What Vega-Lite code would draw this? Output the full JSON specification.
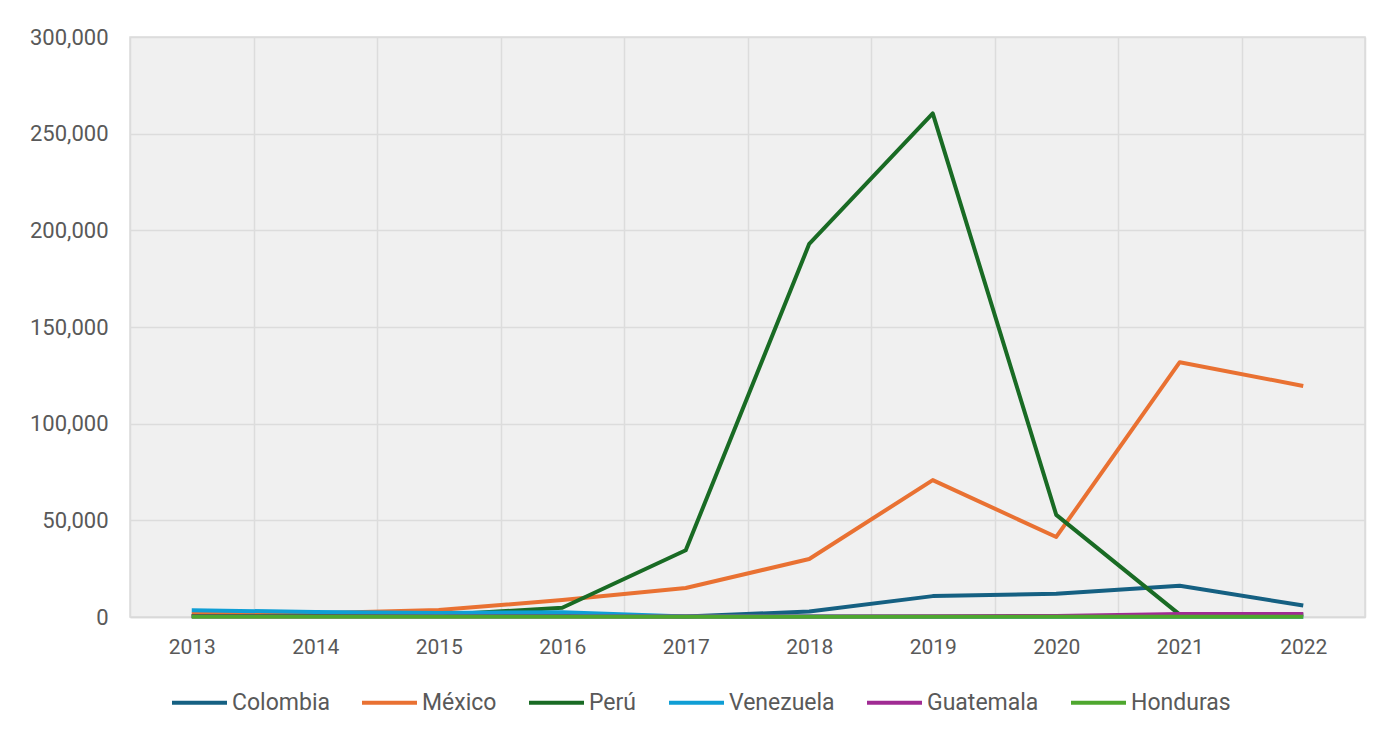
{
  "$schema": "https://vega.github.io/schema/vega-lite/v6.json",
  "width": 1235,
  "height": 580,
  "autosize": {"type": "none"},
  "padding": {"left": 130, "top": 37, "right": 33, "bottom": 119},
  "background": "white",
  "config": {
    "font": "Roboto",
    "view": {"fill": "#f0f0f0", "stroke": "#dcdcdc", "strokeWidth": 1.5}
  },
  "data": {
    "values": [
      {"year": "2013", "country": "Colombia", "value": 500},
      {"year": "2014", "country": "Colombia", "value": 500},
      {"year": "2015", "country": "Colombia", "value": 600},
      {"year": "2016", "country": "Colombia", "value": 500},
      {"year": "2017", "country": "Colombia", "value": 300},
      {"year": "2018", "country": "Colombia", "value": 2800},
      {"year": "2019", "country": "Colombia", "value": 10800},
      {"year": "2020", "country": "Colombia", "value": 12000},
      {"year": "2021", "country": "Colombia", "value": 16200},
      {"year": "2022", "country": "Colombia", "value": 5900},
      {"year": "2013", "country": "México", "value": 1500},
      {"year": "2014", "country": "México", "value": 2000},
      {"year": "2015", "country": "México", "value": 3600},
      {"year": "2016", "country": "México", "value": 8800},
      {"year": "2017", "country": "México", "value": 15000},
      {"year": "2018", "country": "México", "value": 30000},
      {"year": "2019", "country": "México", "value": 70800},
      {"year": "2020", "country": "México", "value": 41400},
      {"year": "2021", "country": "México", "value": 131800},
      {"year": "2022", "country": "México", "value": 119500},
      {"year": "2013", "country": "Perú", "value": 500},
      {"year": "2014", "country": "Perú", "value": 600},
      {"year": "2015", "country": "Perú", "value": 1000},
      {"year": "2016", "country": "Perú", "value": 4800},
      {"year": "2017", "country": "Perú", "value": 34500},
      {"year": "2018", "country": "Perú", "value": 193000},
      {"year": "2019", "country": "Perú", "value": 260500},
      {"year": "2020", "country": "Perú", "value": 52800},
      {"year": "2021", "country": "Perú", "value": 1200},
      {"year": "2022", "country": "Perú", "value": 1200},
      {"year": "2013", "country": "Venezuela", "value": 3500},
      {"year": "2014", "country": "Venezuela", "value": 2600},
      {"year": "2015", "country": "Venezuela", "value": 2100},
      {"year": "2016", "country": "Venezuela", "value": 2500},
      {"year": "2017", "country": "Venezuela", "value": 300},
      {"year": "2018", "country": "Venezuela", "value": 200},
      {"year": "2019", "country": "Venezuela", "value": 150},
      {"year": "2020", "country": "Venezuela", "value": 150},
      {"year": "2021", "country": "Venezuela", "value": 150},
      {"year": "2022", "country": "Venezuela", "value": 150},
      {"year": "2013", "country": "Guatemala", "value": 200},
      {"year": "2014", "country": "Guatemala", "value": 200},
      {"year": "2015", "country": "Guatemala", "value": 200},
      {"year": "2016", "country": "Guatemala", "value": 200},
      {"year": "2017", "country": "Guatemala", "value": 200},
      {"year": "2018", "country": "Guatemala", "value": 300},
      {"year": "2019", "country": "Guatemala", "value": 400},
      {"year": "2020", "country": "Guatemala", "value": 500},
      {"year": "2021", "country": "Guatemala", "value": 1500},
      {"year": "2022", "country": "Guatemala", "value": 1500},
      {"year": "2013", "country": "Honduras", "value": 100},
      {"year": "2014", "country": "Honduras", "value": 100},
      {"year": "2015", "country": "Honduras", "value": 100},
      {"year": "2016", "country": "Honduras", "value": 100},
      {"year": "2017", "country": "Honduras", "value": 100},
      {"year": "2018", "country": "Honduras", "value": 100},
      {"year": "2019", "country": "Honduras", "value": 100},
      {"year": "2020", "country": "Honduras", "value": 100},
      {"year": "2021", "country": "Honduras", "value": 100},
      {"year": "2022", "country": "Honduras", "value": 100}
    ]
  },
  "mark": {"type": "line", "strokeWidth": 4, "strokeJoin": "round", "strokeCap": "butt"},
  "encoding": {
    "x": {
      "field": "year",
      "type": "ordinal",
      "bandPosition": 0.5,
      "scale": {"type": "band", "paddingInner": 0, "paddingOuter": 0},
      "axis": {
        "title": null,
        "labelAngle": 0,
        "labelFontSize": 21,
        "labelColor": "#595959",
        "labelPadding": 19,
        "ticks": false,
        "tickBand": "extent",
        "grid": true,
        "gridColor": "#dcdcdc",
        "gridWidth": 1.5,
        "domain": true,
        "domainColor": "#d9d9d9",
        "domainWidth": 1.5
      }
    },
    "y": {
      "field": "value",
      "type": "quantitative",
      "scale": {"domain": [0, 300000], "nice": false},
      "axis": {
        "title": null,
        "values": [0, 50000, 100000, 150000, 200000, 250000, 300000],
        "format": ",.0f",
        "labelFontSize": 22,
        "labelColor": "#595959",
        "labelPadding": 22,
        "ticks": false,
        "domain": false,
        "grid": true,
        "gridColor": "#dcdcdc",
        "gridWidth": 1.5
      }
    },
    "color": {
      "field": "country",
      "type": "nominal",
      "scale": {
        "domain": ["Colombia", "México", "Perú", "Venezuela", "Guatemala", "Honduras"],
        "range": ["#156082", "#E97132", "#196B24", "#0F9ED5", "#A02B93", "#4EA72E"]
      },
      "legend": {
        "title": null,
        "orient": "none",
        "direction": "horizontal",
        "legendX": 40,
        "legendY": 636,
        "symbolType": "stroke",
        "symbolSize": 3025,
        "symbolStrokeWidth": 4,
        "labelFontSize": 23,
        "labelColor": "#595959",
        "labelOffset": 3,
        "columnPadding": 24,
        "labelLimit": 300
      }
    }
  }
}
